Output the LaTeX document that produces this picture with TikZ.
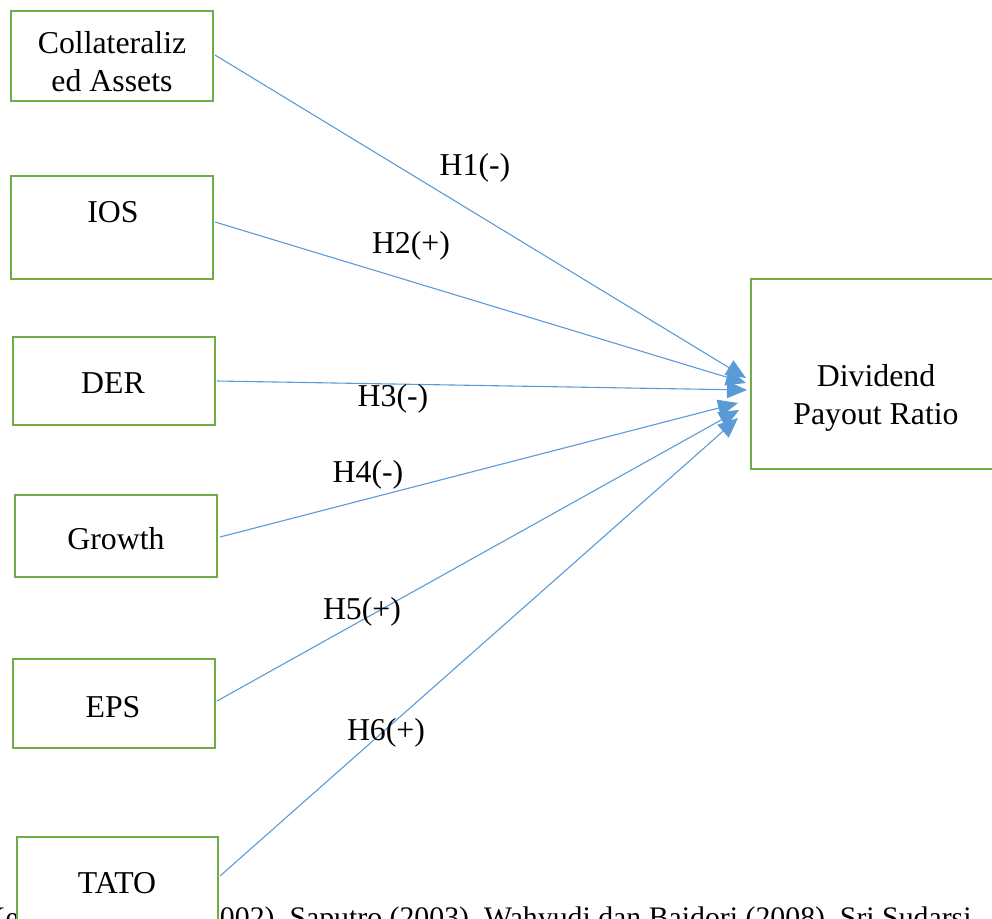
\documentclass[tikz,border=0pt]{standalone}
\usepackage{fontspec}
\setmainfont{Liberation Serif}
\usetikzlibrary{arrows.meta}
\definecolor{boxgreen}{RGB}{112,173,71}
\definecolor{arrowblue}{RGB}{91,155,213}
\begin{document}
\begin{tikzpicture}[x=0.5pt,y=-0.5pt,
  box/.style={draw=boxgreen, line width=1.4pt, fill=white, inner sep=0pt, outer sep=0pt},
  txt/.style={font=\fontsize{15.9}{19}\selectfont, align=center, inner sep=0pt},
  srctxt/.style={font=\fontsize{14.9}{18}\selectfont, inner sep=0pt},
  arr/.style={draw=arrowblue, line width=0.55pt, -{Triangle[length=10pt,width=8.5pt]}}]
\useasboundingbox (0,0) rectangle (992,918);
% bottom source line (partly hidden by the TATO box)
\node[srctxt, anchor=base east] (src) at (972,927) {Keown dan Rose (2002), Saputro (2003), Wahyudi dan Baidori (2008), Sri Sudarsi};
% boxes
\node[box, minimum width=101pt, minimum height=45pt] (col) at (112,56) {};
\node[box, minimum width=101pt, minimum height=51.5pt] (ios) at (112,227.5) {};
\node[box, minimum width=101pt, minimum height=44pt] (der) at (114,381) {};
\node[box, minimum width=101pt, minimum height=41pt] (gro) at (116,536) {};
\node[box, minimum width=101pt, minimum height=44.5pt] (eps) at (114,703.5) {};
\node[box, minimum width=100.5pt, minimum height=46.5pt] (tato) at (117.5,883.5) {};
\node[box, minimum width=125pt, minimum height=95pt] (dpr) at (876,374) {};
% box texts
\node[txt] (tcol) at (112,62) {Collateraliz\\ed Assets};
\node[txt] (tios) at (113,212) {IOS};
\node[txt] (tder) at (113,383) {DER};
\node[txt] (tgro) at (116,539) {Growth};
\node[txt] (teps) at (113,707) {EPS};
\node[txt] (ttato) at (117,883) {TATO};
\node[txt] (tdpr) at (876,398) {Dividend\\Payout Ratio};
% arrow end points
\coordinate (e1) at (746,378);
\coordinate (e2) at (746,383);
\coordinate (e3) at (747,390);
\coordinate (e4) at (738,403);
\coordinate (e5) at (739,410);
\coordinate (e6) at (738,418);
\coordinate (s1) at (215,55);
\coordinate (s2) at (215,222);
\coordinate (s3) at (217,381);
\coordinate (s4) at (220,537);
\coordinate (s5) at (217,701);
\coordinate (s6) at (220,876);
\draw[arr] (s1) -- (e1);
\draw[arr] (s2) -- (e2);
\draw[arr] (s3) -- (e3);
\draw[arr] (s4) -- (e4);
\draw[arr] (s5) -- (e5);
\draw[arr] (s6) -- (e6);
% labels
\node[txt] (h1) at (475,168) {H1(-)};
\node[txt] (h2) at (411,246) {H2(+)};
\node[txt] (h3) at (393,399) {H3(-)};
\node[txt] (h4) at (368,475) {H4(-)};
\node[txt] (h5) at (362,612) {H5(+)};
\node[txt] (h6) at (386,733) {H6(+)};
\end{tikzpicture}
\end{document}
